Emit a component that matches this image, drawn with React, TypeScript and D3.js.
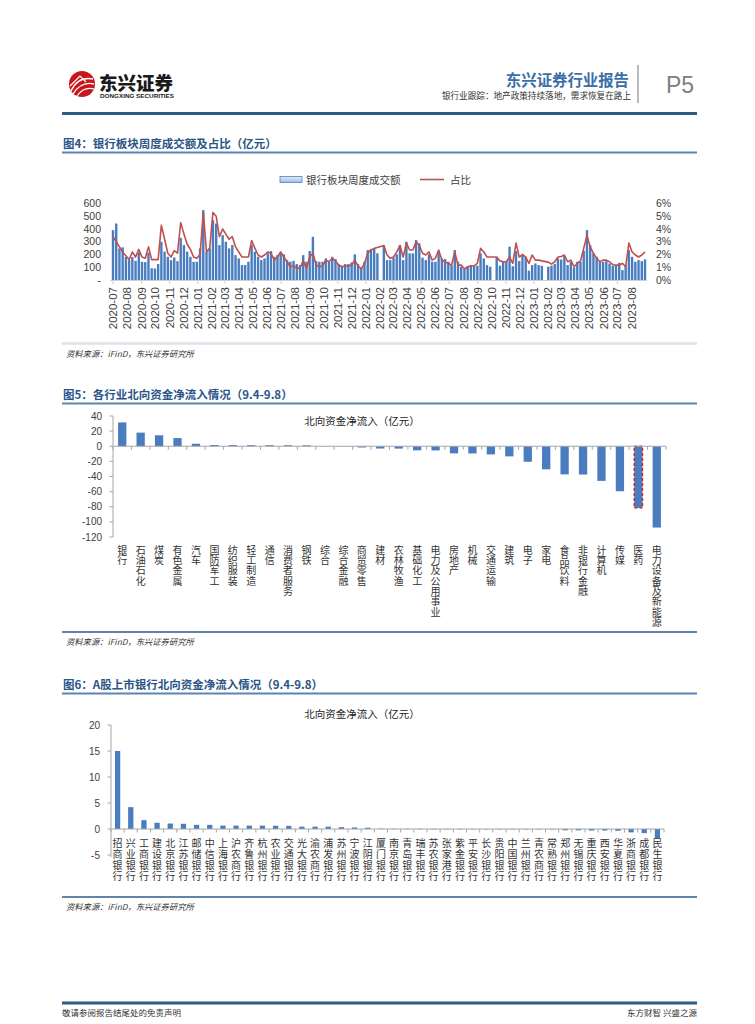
import * as d3 from "d3";

const CJK = "'Noto Sans CJK SC', 'Noto Sans', sans-serif";
const LAT = "'Liberation Sans', Arial, sans-serif";
const BAR = "#4a7dbf";
const AXIS = "#a6a6a6";
const INK = "#404040";

// ---- 图4: weekly turnover of the bank sector (亿元) and its share of the market (%)
const firstWeek = new Date(2020, 6, 3);
const turnover: (number | null)[] = [
  391, 443, 248, 256, 182, 156, 180, 150, 215, 143, 140, 215, 92, 90, 125, 300, 222, 182, 156, 177, 148, 331, 274, 222, 182, 143, 143, 248, 548, 222, 248, 469, 443, 274, 352, 300, 248, 274, 195, 169, 117, 117, 143,
  274, 222, 182, 156, 169, 209, 227, 182, 195, 216, 201, 156, 143, 150, 125, 117, 195, 143, 227, 339, 148, 143, 143, 169, 143, 182, 164, 125, 112, 125, 125, 138, 201, 125, 99, 143, 235, 243, 243, 209, null, 274, 156, 156, 175, 201,
  274, 156, 300, 209, 209, 313, 287, 175, 156, 201, 143, 143, 227, 169, 164, 143, 117, 235, 143, 104, 86, 104, 117, 112, 112, 209, 169, 117, 104, null, 175, 112, 143, 148, 261, 108, 227, 148, 195, 182, 73, 117, 130, 117, 112, null, 104,
  112, 125, 169, 160, 188, 117, 143, 99, 143, 143, 230, 391, 274, 209, 182, 143, 143, 148, 130, 112, 117, 135, 78, 117, 235, 182, 143, 156, 148, 162,
];
const share: (number | null)[] = [
  3.4, 3.0, 2.6, 2.2, 1.9, 1.6, 2.2, 1.8, 2.4, 1.8, 1.7, 2.6, 1.6, 1.6, 1.6, 4.3, 3.2, 2.1, 1.8, 2.3, 2.1, 4.5, 3.6, 2.8, 2.4, 1.8, 1.7, 2.0, 5.3, 2.2, 2.5, 5.3, 5.0, 3.4, 4.0, 3.6, 3.2, 3.4, 2.6, 2.2, 1.8, 1.8, 1.8,
  3.1, 2.5, 1.96, 1.8, 1.96, 2.2, 2.1, 1.56, 1.8, 2.2, 1.8, 1.43, 1.04, 1.1, 0.91, 0.95, 1.5, 0.91, 1.8, 2.1, 1.17, 1.04, 1.1, 1.56, 1.43, 1.7, 1.5, 1.17, 1.04, 1.1, 1.1, 1.17, 1.56, 1.1, 0.87, 1.3, 2.1, 2.35, 2.48, 2.55, null, 2.7, 1.96, 1.7, 1.8, 2.2,
  2.7, 1.8, 2.9, 2.35, 2.35, 3.0, 2.7, 2.1, 1.96, 2.2, 1.56, 1.7, 2.35, 1.56, 1.43, 1.3, 1.17, 2.2, 1.17, 1.17, 0.87, 1.04, 1.1, 1.1, 1.3, 2.48, 2.2, 1.8, 1.8, null, 1.8, 1.5, 1.43, 1.43, 1.8, 1.3, 2.9, 1.8, 2.0, 1.8, 1.3, 1.96, 1.56, 1.56, 1.5, null, 1.4,
  1.25, 1.43, 1.8, 1.85, 1.96, 1.43, 1.56, 1.04, 1.3, 1.5, 2.5, 3.5, 2.6, 2.1, 1.7, 1.43, 1.56, 1.56, 1.43, 1.2, 1.17, 1.17, 1.3, 1.04, 2.9, 2.2, 1.96, 1.8, 1.96, 2.2,
];
const turnoverTicks = [0, 100, 200, 300, 400, 500, 600];
const shareTicks = [0, 1, 2, 3, 4, 5, 6];
const monthCount = 38;
const legendNames = ["银行板块周度成交额", "占比"];

// ---- 图5: northbound net inflow by industry (亿元)
const industries = [
  "银行", "石油石化", "煤炭", "有色金属", "汽车", "国防军工", "纺织服装", "轻工制造", "通信", "消费者服务",
  "钢铁", "综合", "综合金融", "商贸零售", "建材", "农林牧渔", "基础化工", "电力及公用事业", "房地产", "机械",
  "交通运输", "建筑", "电子", "家电", "食品饮料", "非银行金融", "计算机", "传媒", "医药", "电力设备及新能源",
];
const industryFlow = [
  31.5, 18, 14.5, 10.8, 3.3, 1.6, 1.5, 1.4, 1.4, 1.3,
  1.2, 0.3, -0.3, -1.6, -3.0, -3.1, -5.4, -5.5, -9.4, -9.5,
  -10.8, -13.4, -20.5, -30.5, -37.2, -37.4, -45.8, -59.5, -81.5, -107.5,
];
const industryTicks = [40, 20, 0, -20, -40, -60, -80, -100, -120];
const highlighted = "医药";

// ---- 图6: northbound net inflow by listed bank (亿元)
const banks = [
  "招商银行", "兴业银行", "工商银行", "建设银行", "北京银行", "江苏银行", "邮储银行", "中信银行", "上海银行", "沪农商行",
  "齐鲁银行", "杭州银行", "农业银行", "交通银行", "光大银行", "渝农商行", "浦发银行", "苏州银行", "宁波银行", "江阴银行",
  "厦门银行", "南京银行", "青岛银行", "瑞丰银行", "苏农银行", "张家港行", "紫金银行", "平安银行", "长沙银行", "贵阳银行",
  "中国银行", "兰州银行", "青农商行", "常熟银行", "郑州银行", "无锡银行", "重庆银行", "西安银行", "华夏银行", "浙商银行",
  "成都银行", "民生银行",
];
const bankFlow = [
  15.0, 4.2, 1.7, 1.2, 1.05, 1.0, 0.8, 0.8, 0.65, 0.65,
  0.65, 0.65, 0.62, 0.6, 0.45, 0.45, 0.45, 0.35, 0.3, 0.25,
  0.06, 0.05, 0.04, 0.03, 0.02, 0.02, 0.01, -0.01, -0.02, -0.03,
  -0.04, -0.05, -0.06, -0.08, -0.25, -0.25, -0.3, -0.3, -0.35, -0.65,
  -0.8, -1.75,
];
const bankTicks = [20, 15, 10, 5, 0, -5];

const chartTitle = "北向资金净流入（亿元）";
const sourceText = "资料来源：iFinD，东兴证券研究所";

function SectionTitle({ y, text }: { y: number; text: string }) {
  return (
    <g>
      <text x={63} y={y} fontFamily={CJK} fontSize={11.5} fontWeight={700} fill="#2b5587">
        {text}
      </text>
      <line x1={62} x2={697} y1={y + 4.5} y2={y + 4.5} stroke="#5a86b6" strokeWidth={2} />
    </g>
  );
}

function Source({ lineY, color, width }: { lineY: number; color: string; width: number }) {
  return (
    <g>
      <line x1={62} x2={697} y1={lineY} y2={lineY} stroke={color} strokeWidth={width} />
      <text x={66} y={lineY + 13} fontFamily={CJK} fontSize={8.3} fontStyle="italic" fill="#333">
        {sourceText}
      </text>
    </g>
  );
}

// category label written top-to-bottom, one upright character under the other
function VLabel({ x, top, text, gap, size }: { x: number; top: number; text: string; gap: number; size: number }) {
  return (
    <text
      x={x}
      y={top}
      fontFamily={CJK}
      fontSize={size}
      fill="#333"
      letterSpacing={gap}
      style={{ writingMode: "vertical-rl", textOrientation: "upright" }}
    >
      {text}
    </text>
  );
}

function Header() {
  return (
    <g>
      <circle cx={82} cy={84} r={13} fill="#c8161d" />
      <path d="M71 91 Q78 76 93 79" fill="none" stroke="#fff" strokeWidth={1.3} />
      <path d="M73 94 Q81 81 94 84" fill="none" stroke="#fff" strokeWidth={1.3} />
      <path d="M77 96 Q84 86 94 89" fill="none" stroke="#fff" strokeWidth={1.3} />
      <path d="M70 86 L80 76 L86 82" fill="none" stroke="#fff" strokeWidth={1.2} />
      <text x={99} y={90} fontFamily={CJK} fontSize={18.5} fontWeight={900} fill="#1a1a1a">
        东兴证券
      </text>
      <text x={100} y={98} fontFamily={LAT} fontSize={6} fontWeight={700} fill="#1a1a1a" textLength={74} lengthAdjust="spacingAndGlyphs">
        DONGXING SECURITIES
      </text>
      <text x={629} y={86} textAnchor="end" fontFamily={CJK} fontSize={15.4} fontWeight={700} fill="#3a6fa8">
        东兴证券行业报告
      </text>
      <text x={631} y={98.5} textAnchor="end" fontFamily={CJK} fontSize={8.6} fill="#333">
        银行业跟踪：地产政策持续落地，需求恢复在路上
      </text>
      <line x1={638} x2={638} y1={65} y2={103} stroke={AXIS} strokeWidth={1.5} />
      <text x={666} y={93} fontFamily={LAT} fontSize={23} fill="#808080">
        P5
      </text>
      <line x1={62} x2={697} y1={113.5} y2={113.5} stroke="#2e5c8a" strokeWidth={3} />
    </g>
  );
}

function Fig4() {
  const weeks = turnover.map((_, i) => d3.timeDay.offset(firstWeek, 7 * i));
  const x = d3.scaleTime().domain([weeks[0], weeks[weeks.length - 1]]).range([113, 645]);
  const yL = d3.scaleLinear().domain([0, 600]).range([280, 203.5]);
  const yR = d3.scaleLinear().domain([0, 6]).range([280, 203.5]);
  const months = d3.range(monthCount).map((k) => d3.timeMonth.offset(firstWeek, k));
  const fmt = d3.timeFormat("%Y-%m");
  const pts = weeks
    .map((d, i) => ({ d, v: share[i] }))
    .filter((p): p is { d: Date; v: number } => p.v != null);
  const path = d3
    .line<{ d: Date; v: number }>()
    .x((p) => x(p.d))
    .y((p) => yR(p.v))(pts);
  const bw = 2.4;

  return (
    <g>
      <SectionTitle y={148} text="图4：银行板块周度成交额及占比（亿元）" />
      <defs>
        <linearGradient id="legendFill" x1="0" y1="0" x2="0" y2="1">
          <stop offset="0" stopColor="#e4ecf7" />
          <stop offset="1" stopColor="#9dbde4" />
        </linearGradient>
      </defs>
      {/* legend */}
      <rect x={280} y={176.5} width={22} height={6} fill="url(#legendFill)" stroke="#4f81bd" strokeWidth={0.8} />
      <text x={306} y={183.5} fontFamily={CJK} fontSize={10.5} fill={INK}>
        {legendNames[0]}
      </text>
      <line x1={420} x2={444} y1={179.5} y2={179.5} stroke="#c0504d" strokeWidth={1.6} />
      <text x={450} y={183.5} fontFamily={CJK} fontSize={10.5} fill={INK}>
        {legendNames[1]}
      </text>

      {/* left axis labels */}
      {turnoverTicks.map((t) => (
        <text key={t} x={101} y={yL(t)} dy="0.35em" textAnchor="end" fontFamily={LAT} fontSize={10.5} fill={INK}>
          {t === 0 ? "-" : t}
        </text>
      ))}
      {/* right axis labels */}
      {shareTicks.map((t) => (
        <text key={t} x={656} y={yR(t)} dy="0.35em" fontFamily={LAT} fontSize={10.5} fill={INK}>
          {t}%
        </text>
      ))}

      {/* bars */}
      {weeks.map((d, i) => {
        const v = turnover[i];
        if (v == null) return null;
        return <rect key={i} x={x(d) - bw / 2} y={yL(v)} width={bw} height={yL(0) - yL(v)} fill={BAR} />;
      })}
      {/* share line */}
      <path d={path ?? ""} fill="none" stroke="#c0504d" strokeWidth={1.6} strokeLinejoin="round" />

      {/* x axis */}
      <line x1={110} x2={647} y1={280.5} y2={280.5} stroke="#d0d0d0" strokeWidth={1} />
      {months
        .filter((_, k) => k % 2 === 0)
        .map((m, k) => (
          <line key={k} x1={x(m)} x2={x(m)} y1={280.5} y2={284} stroke="#d0d0d0" strokeWidth={1} />
        ))}
      {months.map((m, k) => (
        <text
          key={k}
          transform={`translate(${x(m)},287) rotate(-90)`}
          dy="0.35em"
          textAnchor="end"
          fontFamily={LAT}
          fontSize={11.5}
          fill={INK}
        >
          {fmt(m)}
        </text>
      ))}

      <Source lineY={343.5} color="#dbe2ea" width={2.5} />
    </g>
  );
}

function Fig5() {
  const y = d3.scaleLinear().domain([-120, 40]).range([537, 416]);
  const x = d3.scaleBand().domain(industries).range([113, 666]).paddingInner(0.55).paddingOuter(0.275);
  const step = x.step();
  return (
    <g>
      <SectionTitle y={399} text="图5：各行业北向资金净流入情况（9.4-9.8）" />
      <text x={362} y={424.5} textAnchor="middle" fontFamily={CJK} fontSize={10.5} fill="#222">
        {chartTitle}
      </text>
      {/* y axis */}
      <line x1={113} x2={113} y1={y(40)} y2={y(-120)} stroke={AXIS} />
      {industryTicks.map((t) => (
        <g key={t}>
          <line x1={109.5} x2={113} y1={y(t)} y2={y(t)} stroke={AXIS} />
          <text x={102} y={y(t)} dy="0.35em" textAnchor="end" fontFamily={LAT} fontSize={10} fill={INK}>
            {t}
          </text>
        </g>
      ))}
      {/* bars */}
      {industries.map((c, i) => {
        const v = industryFlow[i];
        const top = y(Math.max(0, v));
        const h = Math.abs(y(v) - y(0));
        const hl = c === highlighted;
        return (
          <rect
            key={c}
            x={x(c)}
            y={top}
            width={x.bandwidth()}
            height={h}
            fill={BAR}
            stroke={hl ? "#e0201b" : "none"}
            strokeWidth={hl ? 1.4 : 0}
            strokeDasharray={hl ? "3 2" : undefined}
          />
        );
      })}
      {/* zero line with category ticks */}
      <line x1={113} x2={666} y1={y(0)} y2={y(0)} stroke={AXIS} />
      {d3.range(industries.length + 1).map((k) => (
        <line key={k} x1={113 + k * step} x2={113 + k * step} y1={y(0)} y2={y(0) + 3.5} stroke={AXIS} />
      ))}
      {/* vertical category labels, below the plot */}
      {industries.map((c) => (
        <VLabel key={c} x={(x(c) ?? 0) + x.bandwidth() / 2} top={545} text={c} gap={0.3} size={10} />
      ))}
      <Source lineY={632} color="#2e5c8a" width={1.5} />
    </g>
  );
}

function Fig6() {
  const y = d3.scaleLinear().domain([-5, 20]).range([855, 725]);
  const x = d3.scaleBand().domain(banks).range([111, 664]).paddingInner(0.6).paddingOuter(0.3);
  const step = x.step();
  return (
    <g>
      <SectionTitle y={689} text="图6：A股上市银行北向资金净流入情况（9.4-9.8）" />
      <text x={362} y={718} textAnchor="middle" fontFamily={CJK} fontSize={10.5} fill="#222">
        {chartTitle}
      </text>
      <line x1={111} x2={111} y1={y(20)} y2={y(-5) + 2} stroke={AXIS} />
      {bankTicks.map((t) => (
        <g key={t}>
          <line x1={107.5} x2={111} y1={y(t)} y2={y(t)} stroke={AXIS} />
          <text x={100} y={y(t)} dy="0.35em" textAnchor="end" fontFamily={LAT} fontSize={10} fill={INK}>
            {t}
          </text>
        </g>
      ))}
      {banks.map((b, i) => {
        const v = bankFlow[i];
        const top = y(Math.max(0, v));
        const h = Math.max(Math.abs(y(v) - y(0)), 0.4);
        return <rect key={b} x={x(b)} y={top} width={x.bandwidth()} height={h} fill={BAR} />;
      })}
      <line x1={111} x2={664} y1={y(0)} y2={y(0)} stroke={AXIS} />
      {d3.range(banks.length + 1).map((k) => (
        <line key={k} x1={111 + k * step} x2={111 + k * step} y1={y(0)} y2={y(0) + 3.5} stroke={AXIS} />
      ))}
      {/* labels sit next to the zero axis */}
      {banks.map((b) => (
        <VLabel key={b} x={(x(b) ?? 0) + x.bandwidth() / 2} top={838} text={b} gap={1} size={10} />
      ))}
      <Source lineY={897} color="#2e5c8a" width={1.5} />
    </g>
  );
}

function Footer() {
  return (
    <g>
      <line x1={62} x2={697} y1={1003} y2={1003} stroke="#2e5c8a" strokeWidth={3} />
      <text x={62} y={1016} fontFamily={CJK} fontSize={8.5} fill="#333">
        敬请参阅报告结尾处的免责声明
      </text>
      <text x={697} y={1016} textAnchor="end" fontFamily={CJK} fontSize={8.5} fill="#333">
        东方财智 兴盛之源
      </text>
    </g>
  );
}

export default function App() {
  return (
    <svg
      width={755}
      height={1024}
      viewBox="0 0 755 1024"
      style={{ position: "absolute", left: 0, top: 0, background: "#fff" }}
    >
      <rect width={755} height={1024} fill="#fff" />
      <Header />
      <Fig4 />
      <Fig5 />
      <Fig6 />
      <Footer />
    </svg>
  );
}
